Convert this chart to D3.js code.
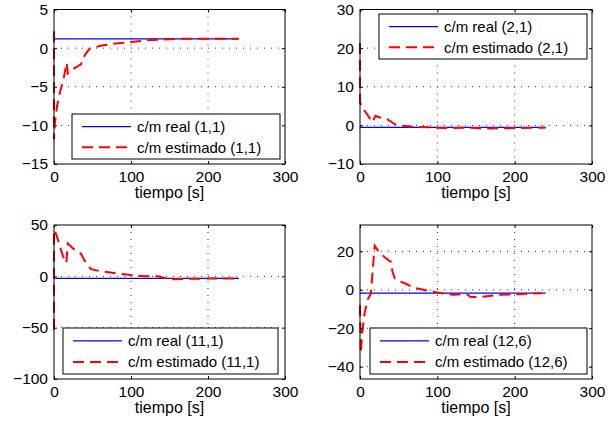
<!DOCTYPE html>
<html>
<head>
<meta charset="utf-8">
<script src="https://cdn.jsdelivr.net/npm/d3@7"></script>
<style>
	body { margin: 0; background: #fff; }
	svg { display: block; font-family: "Liberation Sans", Arial, sans-serif; }
</style>
</head>
<body>
<div id="viz"></div>
<script>
// tiempo [s] y valores
const xTicks = [0, 100, 200, 300];
const realTime = [0, 240];

const time11 = [0, 0, 1, 4, 8, 12, 16.5, 18, 25, 35, 40, 46, 60, 80, 100, 120, 140, 160, 240];
const est11 = [2.2, -11.8, -9.8, -7.5, -5.6, -4.2, -1.9, -3.3, -2.7, -2.1, -0.9, -0.1, 0.3, 0.6, 0.8, 1.0, 1.1, 1.2, 1.2];
const real11 = 1.2;
const yTicks11 = [-15, -10, -5, 0, 5];

const time21 = [0, 0, 3, 8, 12, 16, 20, 25, 35, 40, 45, 55, 70, 90, 110, 140, 160, 200, 240];
const est21 = [21.3, 6, 4.6, 3.2, 2.0, 0.8, 2.5, 2.1, 1.6, 1.0, 0.3, -0.1, -0.4, -0.5, -0.7, -0.6, -0.8, -0.7, -0.6];
const real21 = -0.5;
const yTicks21 = [-10, 0, 10, 20, 30];

const time111 = [0, 0, 1, 5, 8, 12, 16, 18, 25, 35, 40, 48, 60, 80, 100, 120, 135, 150, 170, 200, 240];
const est111 = [-52, 45, 45, 36, 28, 19, 13, 32, 27, 22, 15, 7, 5, 3, 1.3, 0, 0, -2.8, -2.5, -2.2, -2];
const real111 = -2;
const yTicks111 = [-100, -50, 0, 50];

const time126 = [0, 1, 3, 6, 10, 14, 16, 19, 24, 33, 40, 42, 45, 50, 60, 70, 82, 100, 120, 138, 143, 155, 180, 205, 235];
const est126 = [-8, -33, -22, -12, -5, -2, 8, 23, 20, 16.5, 14.5, 9.5, 6, 4.6, 3, 1, 0, -1.4, -2.6, -2.2, -3.8, -3.8, -2.6, -2.3, -1.8];
const real126 = -1.7;
const yTicks126 = [-40, -20, 0, 20];

const panels = [
	{ id: '(1,1)', t: time11, est: est11, real: real11, yTicks: yTicks11, yDomain: [-15, 5],
		box: [54, 285, 9.5, 164], legend: [72, 114, 208, 45] },
	{ id: '(2,1)', t: time21, est: est21, real: real21, yTicks: yTicks21, yDomain: [-10, 30],
		box: [360, 592, 9.5, 164], legend: [379, 14, 208, 45] },
	{ id: '(11,1)', t: time111, est: est111, real: real111, yTicks: yTicks111, yDomain: [-100, 50],
		box: [54, 285, 225, 379], legend: [63, 328, 215, 46] },
	{ id: '(12,6)', t: time126, est: est126, real: real126, yTicks: yTicks126, yDomain: [-46.4, 33.7],
		box: [360, 592, 225, 379], legend: [370, 328, 217, 46] }
];

const dash = '11,6';

const svg = d3.select('#viz').append('svg')
	.attr('width', 614)
	.attr('height', 421);

for (let p of panels) {
	let [l, r, t, b] = p.box;

	let x = d3.scaleLinear().domain([0, 300]).range([l, r]);
	let y = d3.scaleLinear().domain(p.yDomain).range([b, t]);

	let g = svg.append('g');

	// grid punteado
	g.append('g').selectAll('line')
		.data(xTicks.filter(d => d > 0 && d < 300))
		.join('line')
		.attr('x1', d => x(d)).attr('x2', d => x(d))
		.attr('y1', t).attr('y2', b)
		.attr('stroke', '#333').attr('stroke-width', 1)
		.attr('stroke-dasharray', '1,6');

	g.append('g').selectAll('line')
		.data(p.yTicks.filter(d => y(d) > t + 1 && y(d) < b - 1))
		.join('line')
		.attr('x1', l).attr('x2', r)
		.attr('y1', d => y(d)).attr('y2', d => y(d))
		.attr('stroke', '#333').attr('stroke-width', 1)
		.attr('stroke-dasharray', '1,6');

	let line = d3.line()
		.x(d => x(d[0]))
		.y(d => y(d[1]));

	g.append('path')
		.datum(realTime.map(d => [d, p.real]))
		.attr('fill', 'none')
		.attr('stroke', '#0000ff')
		.attr('stroke-width', 1.2)
		.attr('d', line);

	g.append('path')
		.datum(p.t.map((d, i) => [d, p.est[i]]))
		.attr('fill', 'none')
		.attr('stroke', '#ff0000')
		.attr('stroke-width', 2)
		.attr('stroke-dasharray', dash)
		.attr('d', line);

	// ejes
	g.append('g')
		.attr('transform', `translate(0,${b})`)
		.call(d3.axisBottom(x).tickValues(xTicks).tickSizeInner(-3).tickSizeOuter(0).tickPadding(7))
		.call(a => a.select('.domain').remove());

	g.append('g')
		.attr('transform', `translate(${l},0)`)
		.call(d3.axisLeft(y).tickValues(p.yTicks).tickSizeInner(-3).tickSizeOuter(0).tickPadding(6))
		.call(a => a.select('.domain').remove());

	g.append('g')
		.attr('transform', `translate(0,${t})`)
		.call(d3.axisTop(x).tickValues(xTicks).tickSizeInner(-3).tickSizeOuter(0).tickFormat(''))
		.call(a => a.select('.domain').remove());

	g.append('g')
		.attr('transform', `translate(${r},0)`)
		.call(d3.axisRight(y).tickValues(p.yTicks).tickSizeInner(-3).tickSizeOuter(0).tickFormat(''))
		.call(a => a.select('.domain').remove());

	g.selectAll('.tick text')
		.attr('font-size', 15.5)
		.attr('fill', '#000')
		.attr('font-family', '"Liberation Sans", Arial, sans-serif');
	g.selectAll('.tick line').attr('stroke', '#000');

	g.append('rect')
		.attr('x', l).attr('y', t)
		.attr('width', r - l).attr('height', b - t)
		.attr('fill', 'none')
		.attr('stroke', '#000')
		.attr('stroke-width', 1);

	g.append('text')
		.attr('x', (l + r) / 2)
		.attr('y', b + 34)
		.attr('text-anchor', 'middle')
		.attr('font-size', 16)
		.text('tiempo [s]');

	// leyenda
	let [lx, ly, lw, lh] = p.legend;
	let leg = g.append('g').attr('transform', `translate(${lx},${ly})`);

	leg.append('rect')
		.attr('width', lw).attr('height', lh)
		.attr('fill', '#fff')
		.attr('stroke', '#000')
		.attr('stroke-width', 1);

	let items = [
		{ label: `c/m real ${p.id}`, color: '#0000ff', w: 1.2, dash: null },
		{ label: `c/m estimado ${p.id}`, color: '#ff0000', w: 2, dash: dash }
	];

	items.forEach((it, i) => {
		let yy = lh * 0.28 + i * lh * 0.46;
		leg.append('line')
			.attr('x1', 10).attr('x2', 59)
			.attr('y1', yy).attr('y2', yy)
			.attr('stroke', it.color)
			.attr('stroke-width', it.w)
			.attr('stroke-dasharray', it.dash);
		leg.append('text')
			.attr('x', 65)
			.attr('y', yy)
			.attr('dy', '0.35em')
			.attr('font-size', 15)
			.text(it.label);
	});
}
</script>
</body>
</html>
